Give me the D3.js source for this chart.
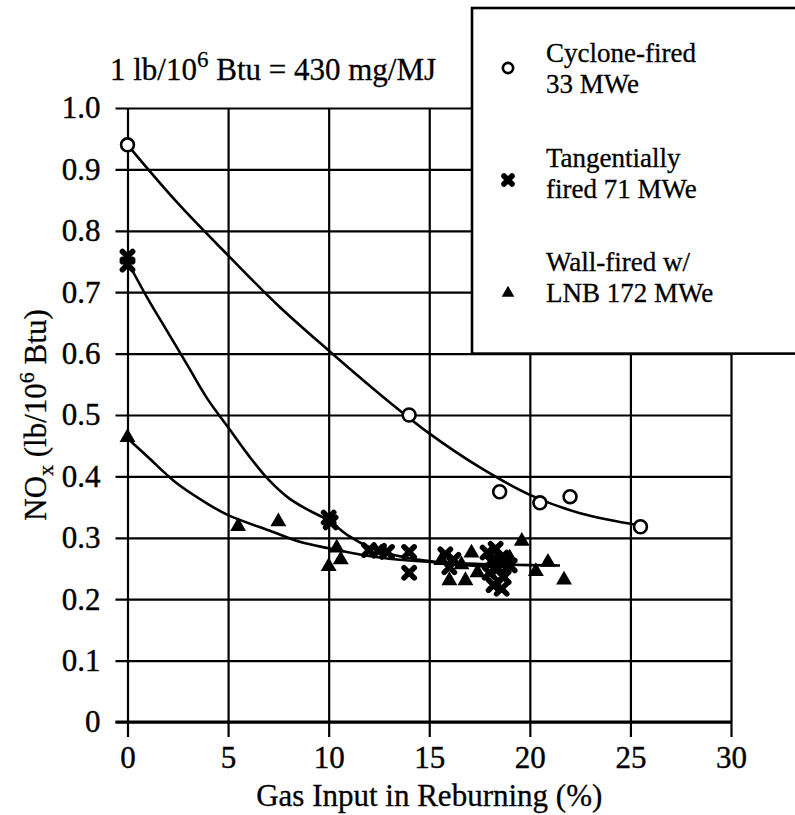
<!DOCTYPE html>
<html>
<head>
<meta charset="utf-8">
<script src="https://cdn.jsdelivr.net/npm/d3@7"></script>
<style>
  html, body { margin: 0; padding: 0; background: #fff; }
  svg, svg text, svg tspan {
    font-family: "Liberation Serif", "Times New Roman", Tinos, "Nimbus Roman", "DejaVu Serif", "Noto Serif", FreeSerif, Times, serif;
    fill: #000;
  }
</style>
</head>
<body>
<div id="chart"></div>
<script>
'use strict';

// axis ticks
var xTicks = [0, 5, 10, 15, 20, 25, 30];
var yTicks = [0, 0.1, 0.2, 0.3, 0.4, 0.5, 0.6, 0.7, 0.8, 0.9, 1.0];
var yTickLabels = ['0', '0.1', '0.2', '0.3', '0.4', '0.5', '0.6', '0.7', '0.8', '0.9', '1.0'];

// cyclone-fired 33 MWe (open circles)
var cycloneX = [0, 14, 18.5, 20.5, 22, 25.5];
var cycloneY = [0.94, 0.50, 0.375, 0.357, 0.367, 0.318];

// tangentially fired 71 MWe (crosses)
var tangX = [0, 0, 10, 10.1, 12, 12.5, 12.9, 14, 14, 15.8, 16, 16.2, 17.9, 18.3, 18.1, 18.6, 18.4, 18.0, 18.7, 18.2, 18.6, 19.0];
var tangY = [0.745, 0.758, 0.333, 0.325, 0.28, 0.279, 0.277, 0.277, 0.243, 0.273, 0.252, 0.264, 0.276, 0.282, 0.262, 0.268, 0.25, 0.243, 0.236, 0.223, 0.217, 0.255];

// wall-fired w/ LNB 172 MWe (filled triangles)
var wallX = [0, 5.5, 7.5, 10.0, 10.4, 10.6, 15.6, 16.0, 16.6, 16.8, 17.1, 17.4, 18.6, 19.0, 19.6, 20.3, 20.9, 21.7];
var wallY = [0.465, 0.32, 0.328, 0.255, 0.285, 0.266, 0.265, 0.232, 0.258, 0.232, 0.277, 0.245, 0.262, 0.269, 0.296, 0.247, 0.262, 0.233];

// hand-drawn fit curves
var cycloneFitX = [0, 2.5, 5, 7.5, 10, 12.5, 15, 17.5, 20, 22.5, 25.5];
var cycloneFitY = [0.94, 0.845, 0.76, 0.678, 0.605, 0.535, 0.47, 0.415, 0.37, 0.34, 0.32];
var tangFitX = [0, 1, 2, 3, 4, 5, 6, 7, 8, 9, 10, 11, 12, 13, 14, 15, 16, 17, 18, 19];
var tangFitY = [0.75, 0.69, 0.635, 0.58, 0.525, 0.48, 0.435, 0.395, 0.365, 0.345, 0.328, 0.303, 0.285, 0.274, 0.267, 0.262, 0.258, 0.255, 0.253, 0.252];
var wallFitX = [0, 1, 2.4, 4, 5, 7.2, 8.6, 10, 11.7, 13, 14.9, 17, 19, 21.5];
var wallFitY = [0.462, 0.432, 0.39, 0.355, 0.337, 0.31, 0.293, 0.283, 0.272, 0.266, 0.261, 0.258, 0.256, 0.255];

// legend entries
var legendNames = [['Cyclone-fired', '33 MWe'], ['Tangentially', 'fired 71 MWe'], ['Wall-fired w/', 'LNB 172 MWe']];
var legendTypes = ['circle', 'cross', 'triangle'];

var W = 795, H = 815
  , serif = '"Liberation Serif", "Times New Roman", Tinos, "Nimbus Roman", "DejaVu Serif", "Noto Serif", FreeSerif, Times, serif'
  , x = d3.scaleLinear().domain([0, 30]).range([127.5, 731])
  , y = d3.scaleLinear().domain([0, 1]).range([722, 108])
  , plotW = x(30) - x(0)
  , plotH = y(0) - y(1)
  , fontSize = 31;

var svg = d3.select('#chart').append('svg')
  .attr('width', W)
  .attr('height', H)
  .attr('font-family', serif);

// x gridlines + ticks + labels
var gx = svg.append('g')
  .attr('transform', 'translate(0,' + y(0) + ')')
  .call(d3.axisBottom(x).tickValues(xTicks).tickSizeInner(-plotH).tickSizeOuter(0).tickPadding(24));
gx.select('.domain').remove();
gx.selectAll('line').attr('y1', 15).attr('stroke', '#000').attr('stroke-width', 2.2);
gx.selectAll('text').attr('font-size', fontSize).attr('font-family', serif)
  .attr('stroke', '#000').attr('stroke-width', 0.4);

// y gridlines + ticks + labels
var gy = svg.append('g')
  .attr('transform', 'translate(' + x(0) + ',0)')
  .call(d3.axisLeft(y).tickValues(yTicks).tickSizeInner(-plotW).tickSizeOuter(0).tickPadding(27)
    .tickFormat(function (d, i) { return yTickLabels[i]; }));
gy.select('.domain').remove();
gy.selectAll('line').attr('x1', -12).attr('stroke', '#000').attr('stroke-width', 2.2);
gy.selectAll('text').attr('font-size', fontSize).attr('font-family', serif)
  .attr('stroke', '#000').attr('stroke-width', 0.4);

// make the bottom line slightly heavier
svg.append('line')
  .attr('x1', x(0) - 12).attr('x2', x(30))
  .attr('y1', y(0)).attr('y2', y(0))
  .attr('stroke', '#000').attr('stroke-width', 3);

// fit curves
var line = d3.line()
  .x(function (d) { return x(d[0]); })
  .y(function (d) { return y(d[1]); })
  .curve(d3.curveCatmullRom);

function zip(a, b) {
  return a.map(function (v, i) { return [v, b[i]]; });
}

[[cycloneFitX, cycloneFitY], [tangFitX, tangFitY], [wallFitX, wallFitY]].forEach(function (c) {
  svg.append('path')
    .datum(zip(c[0], c[1]))
    .attr('d', line)
    .attr('fill', 'none')
    .attr('stroke', '#000')
    .attr('stroke-width', 2.6);
});

// marker drawing
function marker(sel, type, scale) {
  var s = scale || 1;
  if (type === 'circle') {
    sel.append('path').attr('d', d3.symbol(d3.symbolCircle, 130 * s * s))
      .attr('fill', '#fff').attr('stroke', '#000').attr('stroke-width', 2.6);
  } else if (type === 'cross') {
    sel.append('path').attr('d', d3.symbol(d3.symbolTimes, 70 * s * s))
      .attr('fill', 'none').attr('stroke', '#000').attr('stroke-width', 5.5)
      .attr('stroke-linecap', 'round');
  } else {
    sel.append('path').attr('d', d3.symbol(d3.symbolTriangle, 110 * s * s))
      .attr('transform', 'translate(0,1)')
      .attr('fill', '#000');
  }
}

function drawSeries(xs, ys, type) {
  var g = svg.append('g').selectAll('g')
    .data(zip(xs, ys))
    .enter().append('g')
      .attr('transform', function (d) { return 'translate(' + x(d[0]) + ',' + y(d[1]) + ')'; });
  g.each(function () { marker(d3.select(this), type); });
}

drawSeries(wallX, wallY, 'triangle');
drawSeries(tangX, tangY, 'cross');
drawSeries(cycloneX, cycloneY, 'circle');

// conversion note above the plot
var note = svg.append('text')
  .attr('x', 110)
  .attr('y', 80)
  .attr('font-size', fontSize)
  .attr('stroke', '#000').attr('stroke-width', 0.3);
note.append('tspan').text('1 lb/10');
note.append('tspan').attr('font-size', 23).attr('dy', -13).text('6');
note.append('tspan').attr('dy', 13).text(' Btu = 430 mg/MJ');

// axis titles
svg.append('text')
  .attr('x', (x(0) + x(30)) / 2)
  .attr('y', 806)
  .attr('text-anchor', 'middle')
  .attr('font-size', fontSize)
  .attr('stroke', '#000').attr('stroke-width', 0.3)
  .text('Gas Input in Reburning (%)');

var yt = svg.append('text')
  .attr('transform', 'translate(46,' + y(0.5) + ') rotate(-90)')
  .attr('text-anchor', 'middle')
  .attr('font-size', fontSize)
  .attr('stroke', '#000').attr('stroke-width', 0.3);
yt.append('tspan').text('NO');
yt.append('tspan').attr('font-size', 22).attr('dy', 7).text('x');
yt.append('tspan').attr('dy', -7).text(' (lb/10');
yt.append('tspan').attr('font-size', 22).attr('dy', -12).text('6');
yt.append('tspan').attr('dy', 12).text(' Btu)');

// legend box, drawn over the grid at the top right
var legend = svg.append('g').attr('class', 'legend');
legend.append('rect')
  .attr('x', 472).attr('y', 8)
  .attr('width', 340).attr('height', y(0.6) - 8)
  .attr('fill', '#fff').attr('stroke', '#000').attr('stroke-width', 2.6);

var entryTop = [62, 167, 271]
  , markerY = [68, 180, 292]
  , lineGap = 31;

legendNames.forEach(function (names, i) {
  var g = legend.append('g');
  var m = g.append('g').attr('transform', 'translate(508,' + markerY[i] + ')');
  marker(m, legendTypes[i], 0.8);
  names.forEach(function (t, j) {
    g.append('text')
      .attr('x', 546)
      .attr('y', entryTop[i] + j * lineGap)
      .attr('font-size', 27)
      .attr('stroke', '#000').attr('stroke-width', 0.3)
      .text(t);
  });
});
</script>
</body>
</html>
